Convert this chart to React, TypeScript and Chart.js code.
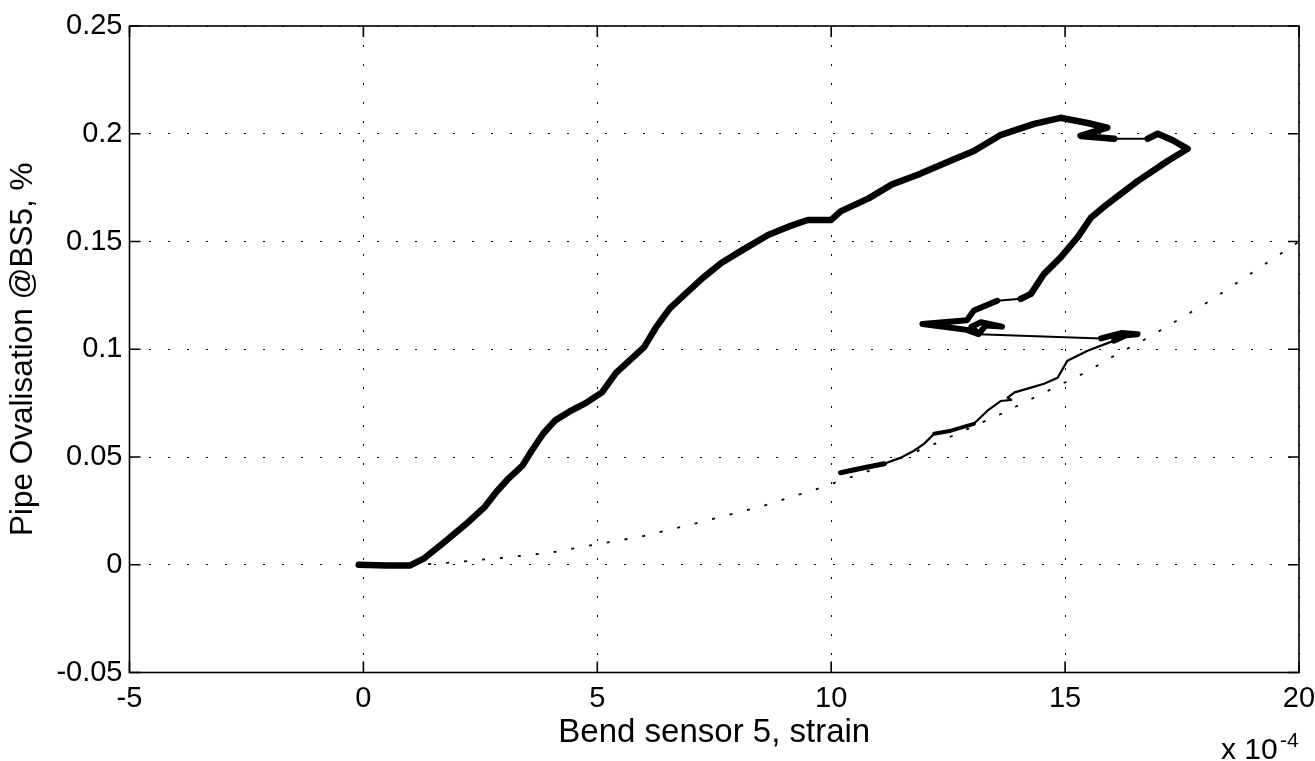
import React, { useEffect, useRef } from "react";
import { Chart, registerables } from "chart.js";

Chart.register(...registerables);

// ---- axis ticks ----
const xTickValues = [-5, 0, 5, 10, 15, 20];
const xTickLabels = ["-5", "0", "5", "10", "15", "20"];
const yTickValues = [-0.05, 0, 0.05, 0.1, 0.15, 0.2, 0.25];
const yTickLabels = ["-0.05", "0", "0.05", "0.1", "0.15", "0.2", "0.25"];
const xTitle = "Bend sensor 5, strain";
const yTitle = "Pipe Ovalisation @BS5, %";
const xExponentBase = "x 10";
const xExponent = "-4";

// ---- measured trace (strain in units of 1e-4, ovalisation in %) ----
// rising branch (thick, noisy)
const riseX = [-0.1, 0.5, 1.0, 1.3, 1.7, 2.2, 2.6, 2.85, 3.1, 3.4, 3.6, 3.85, 4.1, 4.4, 4.75, 5.1, 5.4, 5.75, 6.0, 6.25, 6.55, 6.9, 7.25, 7.65, 8.1, 8.65, 9.1, 9.5, 10.0, 10.2, 10.8, 11.3, 11.85, 12.55, 13.05, 13.63, 14.34, 14.9, 15.48, 15.9, 15.33, 16.05];
const riseY = [0, -0.0003, -0.0003, 0.003, 0.01, 0.019, 0.027, 0.034, 0.04, 0.046, 0.053, 0.061, 0.067, 0.071, 0.075, 0.08, 0.089, 0.096, 0.101, 0.11, 0.119, 0.126, 0.133, 0.14, 0.146, 0.153, 0.157, 0.16, 0.16, 0.164, 0.17, 0.1765, 0.181, 0.1875, 0.192, 0.1995, 0.2046, 0.2074, 0.205, 0.2028, 0.199, 0.1977];
// thin jump near the top
const topJumpX = [16.05, 16.77];
const topJumpY = [0.1977, 0.1977];
// turning loop and descending branch (thick)
const turnX = [16.77, 16.98, 17.3, 17.62, 17.2, 16.55, 15.91, 15.55, 15.27, 14.9, 14.55, 14.27, 14.05];
const turnY = [0.1977, 0.2, 0.197, 0.193, 0.1875, 0.178, 0.1675, 0.161, 0.152, 0.1425, 0.135, 0.1257, 0.1234];
// thin step
const stepX = [14.05, 13.55];
const stepY = [0.1234, 0.1225];
// left-pointing blob (thick)
const blobX = [13.55, 13.05, 12.9, 11.95, 12.9, 13.15, 13.3, 13.65, 13.2, 13.0, 13.15];
const blobY = [0.1225, 0.118, 0.1135, 0.1117, 0.109, 0.107, 0.111, 0.1105, 0.1125, 0.1105, 0.107];
// thin horizontal jump to the right
const jumpX = [13.15, 15.77];
const jumpY = [0.107, 0.105];
// right end blob (thick)
const endBlobX = [15.77, 16.2, 16.55, 16.3, 16.05];
const endBlobY = [0.105, 0.1075, 0.107, 0.1065, 0.104];
// unloading branch (thin)
const unloadX = [16.55, 16.47, 16.05, 15.48, 15.05, 14.84, 14.55, 14.27, 13.92, 13.77, 13.85, 13.63, 13.34, 13.05, 12.56, 12.2, 11.99, 11.77, 11.49, 11.13, 10.7, 10.2];
const unloadY = [0.107, 0.107, 0.104, 0.0993, 0.0947, 0.0868, 0.084, 0.0822, 0.08, 0.0776, 0.0765, 0.076, 0.0715, 0.0654, 0.0622, 0.0608, 0.0562, 0.0529, 0.0497, 0.0469, 0.045, 0.0427];
// thicker noisy patches on the unloading branch
const patchAX = [12.2, 12.56, 13.05];
const patchAY = [0.0608, 0.0622, 0.0654];
const patchBX = [10.2, 10.7, 11.13];
const patchBY = [0.0427, 0.045, 0.0469];
// dotted reference curve
const refX = [1.0, 1.6, 2.87, 4.0, 4.79, 5.93, 7.07, 8.5, 9.67, 11.0, 12.2, 13.63, 15.41, 16.05, 16.77, 18.1, 19.1, 20.0];
const refY = [0, 0.0005, 0.003, 0.0056, 0.0088, 0.013, 0.019, 0.027, 0.035, 0.045, 0.056, 0.07, 0.089, 0.097, 0.1053, 0.1225, 0.137, 0.15];

const zip = (xs: number[], ys: number[]) => xs.map((x, i) => ({ x, y: ys[i] }));

const FONT = "'Liberation Sans', Arial, Helvetica, sans-serif";

const nearestLabel = (v: number, vals: number[], labels: string[]) => {
  let best = 0;
  for (let i = 1; i < vals.length; i++) {
    if (Math.abs(vals[i] - v) < Math.abs(vals[best] - v)) best = i;
  }
  return labels[best];
};

const frameTicks = {
  id: "frameTicks",
  afterDraw(chart: any) {
    const { ctx, chartArea } = chart;
    const { left, right, top, bottom } = chartArea;
    const xs = chart.scales.x;
    const ys = chart.scales.y;
    const TL = 11;
    ctx.save();
    ctx.setLineDash([]);
    ctx.strokeStyle = "#000";
    ctx.lineWidth = 1.6;
    ctx.strokeRect(left, top, right - left, bottom - top);
    ctx.beginPath();
    xs.ticks.forEach((t: any) => {
      const px = xs.getPixelForValue(t.value);
      ctx.moveTo(px, bottom);
      ctx.lineTo(px, bottom - TL);
      ctx.moveTo(px, top);
      ctx.lineTo(px, top + TL);
    });
    ys.ticks.forEach((t: any) => {
      const py = ys.getPixelForValue(t.value);
      ctx.moveTo(left, py);
      ctx.lineTo(left + TL, py);
      ctx.moveTo(right, py);
      ctx.lineTo(right - TL, py);
    });
    ctx.stroke();
    ctx.fillStyle = "#000";
    ctx.textAlign = "left";
    ctx.textBaseline = "alphabetic";
    ctx.font = `30px ${FONT}`;
    ctx.fillText(xExponentBase, right - 78, bottom + 86);
    ctx.font = `21px ${FONT}`;
    ctx.fillText(xExponent, right - 19, bottom + 74);
    ctx.restore();
  },
};

export default function App() {
  const ref = useRef<HTMLCanvasElement | null>(null);

  useEffect(() => {
    if (!ref.current) return;
    const line = (xs: number[], ys: number[], w = 5) => ({
      data: zip(xs, ys),
      borderColor: "#000",
      borderWidth: w,
      showLine: true,
      pointRadius: 0,
      tension: 0,
      borderJoinStyle: "round" as const,
      borderCapStyle: "round" as const,
    });
    const chart = new Chart(ref.current, {
      type: "scatter",
      data: {
        datasets: [
          {
            data: zip(refX, refY),
            borderColor: "#000",
            borderWidth: 1.8,
            borderDash: [3, 15],
            showLine: true,
            pointRadius: 0,
            tension: 0,
          },
          line(riseX, riseY, 6.5),
          line(topJumpX, topJumpY, 2),
          line(turnX, turnY, 6.5),
          line(stepX, stepY, 2),
          line(blobX, blobY, 6),
          line(jumpX, jumpY, 2),
          line(endBlobX, endBlobY, 6),
          line(unloadX, unloadY, 2.2),
          line(patchAX, patchAY, 4),
          line(patchBX, patchBY, 5),
        ],
      },
      options: {
        responsive: false,
        animation: false,
        events: [],
        layout: { padding: { top: 26, right: 16, left: 0, bottom: 0 } },
        plugins: { legend: { display: false }, tooltip: { enabled: false } },
        scales: {
          x: {
            type: "linear",
            min: -5,
            max: 20,
            afterBuildTicks: (s: any) => {
              s.ticks = xTickValues.map((value) => ({ value }));
            },
            ticks: {
              autoSkip: false,
              maxRotation: 0,
              padding: 9,
              color: "#000",
              font: { family: FONT, size: 29 },
              callback: (v: any) => nearestLabel(Number(v), xTickValues, xTickLabels),
            },
            grid: { color: "#000", lineWidth: 1, drawTicks: false, tickLength: 0 },
            border: { display: false, dash: [2, 17] },
            title: {
              display: true,
              text: xTitle,
              color: "#000",
              font: { family: FONT, size: 33 },
              padding: { top: 0, bottom: 8 },
            },
            afterFit: (s: any) => {
              s.height = 88.5;
              s.paddingLeft = 0;
              s.paddingRight = 0;
            },
          },
          y: {
            type: "linear",
            min: -0.05,
            max: 0.25,
            afterBuildTicks: (s: any) => {
              s.ticks = yTickValues.map((value) => ({ value }));
            },
            ticks: {
              autoSkip: false,
              padding: 7,
              color: "#000",
              font: { family: FONT, size: 29 },
              callback: (v: any) => nearestLabel(Number(v), yTickValues, yTickLabels),
            },
            grid: { color: "#000", lineWidth: 1, drawTicks: false, tickLength: 0 },
            border: { display: false, dash: [2, 17] },
            title: {
              display: true,
              text: yTitle,
              color: "#000",
              font: { family: FONT, size: 31.5 },
              padding: { top: 4, bottom: 0 },
            },
            afterFit: (s: any) => {
              s.width = 129.5;
              s.paddingTop = 0;
              s.paddingBottom = 0;
            },
          },
        },
      },
      plugins: [frameTicks],
    });
    return () => chart.destroy();
  }, []);

  return (
    <div style={{ position: "fixed", left: 0, top: 0, width: 1315, height: 761, background: "#fff" }}>
      <canvas ref={ref} width={1315} height={761} style={{ display: "block" }} />
    </div>
  );
}
